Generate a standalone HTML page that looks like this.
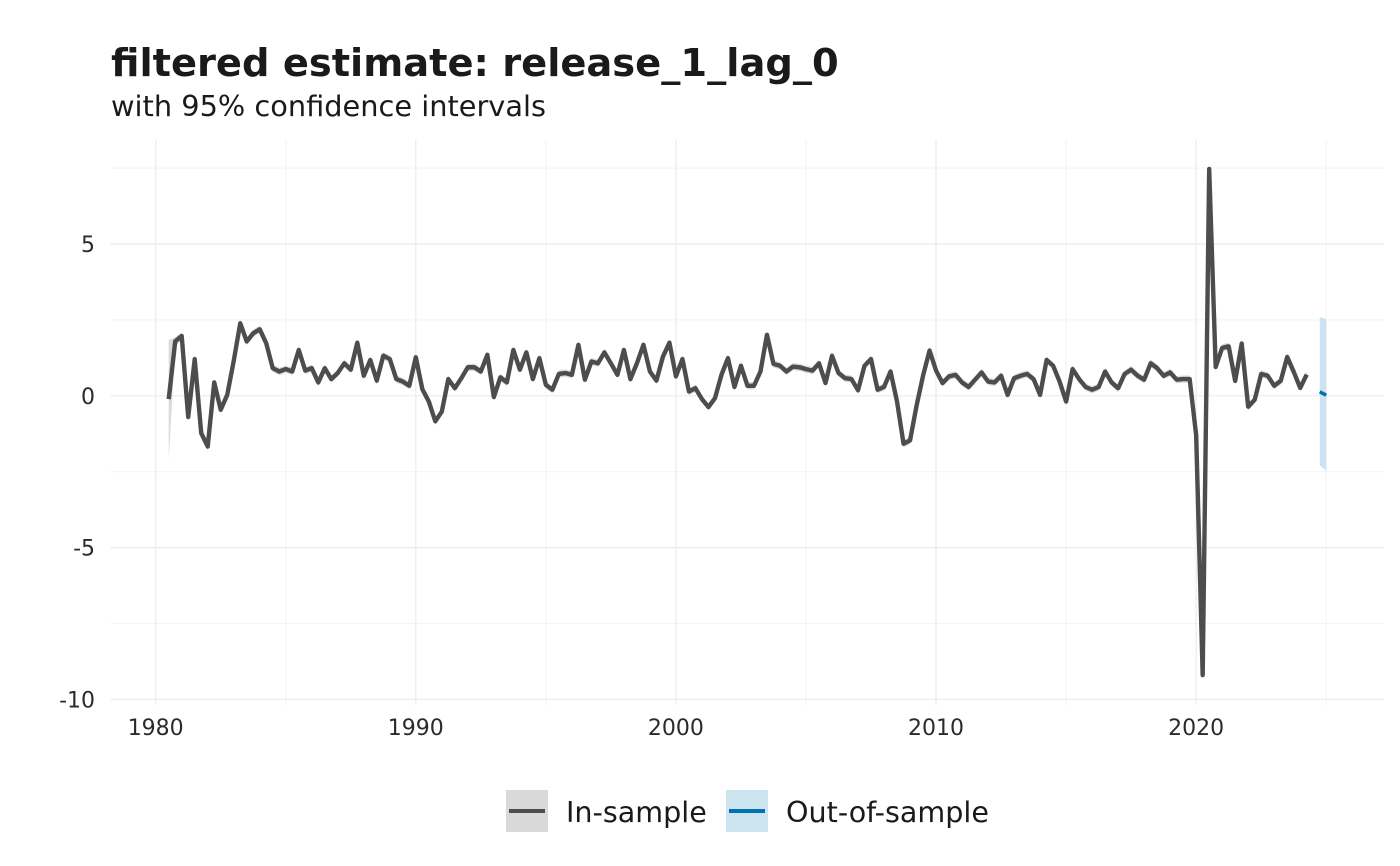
<!DOCTYPE html>
<html>
<head>
<meta charset="utf-8">
<style>
  html, body { margin: 0; padding: 0; background: #ffffff; }
  body { width: 1400px; height: 866px; overflow: hidden; }
  svg { display: block; }
  text { font-family: "DejaVu Sans", "Liberation Sans", sans-serif; }
</style>
</head>
<body>
<svg width="1400" height="866" viewBox="0 0 1400 866" xmlns="http://www.w3.org/2000/svg">
  <rect x="0" y="0" width="1400" height="866" fill="#ffffff"/>

  <!-- Title & subtitle -->
  <text x="111" y="76" font-size="38.4" font-weight="bold" fill="#1a1a1a">filtered estimate: release_1_lag_0</text>
  <text x="111" y="116" font-size="28.8" fill="#1a1a1a">with 95% confidence intervals</text>

  <!-- minor gridlines -->
  <g stroke="#f3f3f3" stroke-width="1">
    <line x1="110.7" y1="168.1" x2="1384" y2="168.1"/>
    <line x1="110.7" y1="319.9" x2="1384" y2="319.9"/>
    <line x1="110.7" y1="471.7" x2="1384" y2="471.7"/>
    <line x1="110.7" y1="623.5" x2="1384" y2="623.5"/>
    <line x1="285.8" y1="139.3" x2="285.8" y2="705"/>
    <line x1="545.9" y1="139.3" x2="545.9" y2="705"/>
    <line x1="806.0" y1="139.3" x2="806.0" y2="705"/>
    <line x1="1066.1" y1="139.3" x2="1066.1" y2="705"/>
    <line x1="1326.3" y1="139.3" x2="1326.3" y2="705"/>
  </g>
  <!-- major gridlines -->
  <g stroke="#ebebeb" stroke-width="1.2">
    <line x1="110.7" y1="244.0" x2="1384" y2="244.0"/>
    <line x1="110.7" y1="395.8" x2="1384" y2="395.8"/>
    <line x1="110.7" y1="547.6" x2="1384" y2="547.6"/>
    <line x1="110.7" y1="699.4" x2="1384" y2="699.4"/>
    <line x1="155.7" y1="139.3" x2="155.7" y2="705"/>
    <line x1="415.8" y1="139.3" x2="415.8" y2="705"/>
    <line x1="675.9" y1="139.3" x2="675.9" y2="705"/>
    <line x1="936.0" y1="139.3" x2="936.0" y2="705"/>
    <line x1="1196.1" y1="139.3" x2="1196.1" y2="705"/>
  </g>

  <!-- y tick labels -->
  <g font-size="22" fill="#2b2b2b" text-anchor="end">
    <text x="95" y="252">5</text>
    <text x="95" y="403.8">0</text>
    <text x="95" y="555.6">-5</text>
    <text x="95" y="707.4">-10</text>
  </g>
  <!-- x tick labels -->
  <g font-size="22" fill="#2b2b2b" text-anchor="middle">
    <text x="155.7" y="735">1980</text>
    <text x="415.8" y="735">1990</text>
    <text x="675.9" y="735">2000</text>
    <text x="936.0" y="735">2010</text>
    <text x="1196.1" y="735">2020</text>
  </g>

  <!-- data in (quarter index, value) coordinates -->
  <g transform="translate(168.7,395.8) scale(6.503,-30.36)">
    <!-- in-sample ribbon -->
    <polygon fill="#dadada" stroke="none" points="
0,1.84 1,1.93 2,2.09 3,-0.58 4,1.33 5,-1.11 6,-1.55 7,0.56 8,-0.34 9,0.15 10,1.27 11,2.51 12,1.91 13,2.18 14,2.31 15,1.85 16,1.03 17,0.92 18,1.00 19,0.92 20,1.63 21,0.95 22,1.03 23,0.56 24,1.03 25,0.67 26,0.87 27,1.19 28,0.98 29,1.87 30,0.78 31,1.30 32,0.62 33,1.44 34,1.33 35,0.67 36,0.59 37,0.45 38,1.39 39,0.34 40,-0.07 41,-0.72 42,-0.40 43,0.67 44,0.37 45,0.70 46,1.06 47,1.06 48,0.92 49,1.47 50,0.08 51,0.73 52,0.56 53,1.63 54,0.98 55,1.55 56,0.67 57,1.36 58,0.48 59,0.32 60,0.84 61,0.87 62,0.81 63,1.80 64,0.65 65,1.25 66,1.19 67,1.55 68,1.19 69,0.81 70,1.63 71,0.67 72,1.19 73,1.80 74,0.92 75,0.62 76,1.41 77,1.87 78,0.76 79,1.33 80,0.26 81,0.37 82,0.01 83,-0.25 84,0.04 85,0.81 86,1.36 87,0.41 88,1.11 89,0.45 90,0.45 91,0.92 92,2.13 93,1.17 94,1.11 95,0.92 96,1.08 97,1.06 98,1.00 99,0.95 100,1.19 101,0.54 102,1.44 103,0.87 104,0.70 105,0.67 106,0.30 107,1.11 108,1.33 109,0.32 110,0.41 111,0.92 112,-0.07 113,-1.46 114,-1.35 115,-0.21 116,0.78 117,1.61 118,0.95 119,0.54 120,0.76 121,0.81 122,0.56 123,0.41 124,0.65 125,0.89 126,0.59 127,0.56 128,0.78 129,0.15 130,0.70 131,0.78 132,0.84 133,0.67 134,0.15 135,1.30 136,1.11 137,0.59 138,-0.07 139,1.00 140,0.67 141,0.41 142,0.32 143,0.41 144,0.92 145,0.56 146,0.37 147,0.84 148,0.98 149,0.78 150,0.65 151,1.19 152,1.03 153,0.78 154,0.89 155,0.65 156,0.67 157,0.67 158,-1.18 159,-9.08 160,7.59 161,1.07 162,1.70 163,1.75 164,0.61 165,1.84 166,-0.24 167,-0.01 168,0.84 169,0.78 170,0.45 171,0.61 172,1.40 173,0.91 174,0.38 175,0.82
175,0.58 174,0.14 173,0.67 172,1.16 171,0.37 170,0.21 169,0.54 168,0.60 167,-0.25 166,-0.48 165,1.60 164,0.37 163,1.51 162,1.46 161,0.83 160,7.35 159,-9.32 158,-1.42 157,0.43 156,0.43 155,0.41 154,0.65 153,0.54 152,0.79 151,0.95 150,0.41 149,0.54 148,0.74 147,0.60 146,0.13 145,0.32 144,0.68 143,0.17 142,0.08 141,0.17 140,0.43 139,0.76 138,-0.31 137,0.35 136,0.87 135,1.06 134,-0.09 133,0.43 132,0.60 131,0.54 130,0.46 129,-0.09 128,0.54 127,0.32 126,0.35 125,0.65 124,0.41 123,0.17 122,0.32 121,0.57 120,0.52 119,0.30 118,0.71 117,1.37 116,0.54 115,-0.45 114,-1.59 113,-1.70 112,-0.31 111,0.68 110,0.17 109,0.08 108,1.09 107,0.87 106,0.06 105,0.43 104,0.46 103,0.63 102,1.20 101,0.30 100,0.95 99,0.71 98,0.76 97,0.82 96,0.84 95,0.68 94,0.87 93,0.93 92,1.89 91,0.68 90,0.21 89,0.21 88,0.87 87,0.17 86,1.12 85,0.57 84,-0.20 83,-0.49 82,-0.23 81,0.13 80,0.02 79,1.09 78,0.52 77,1.63 76,1.17 75,0.38 74,0.68 73,1.56 72,0.95 71,0.43 70,1.39 69,0.57 68,0.95 67,1.31 66,0.95 65,1.01 64,0.41 63,1.56 62,0.57 61,0.63 60,0.60 59,0.08 58,0.24 57,1.12 56,0.43 55,1.31 54,0.74 53,1.39 52,0.32 51,0.49 50,-0.16 49,1.23 48,0.68 47,0.82 46,0.82 45,0.46 44,0.13 43,0.43 42,-0.64 41,-0.96 40,-0.31 39,0.10 38,1.15 37,0.21 36,0.35 35,0.43 34,1.09 33,1.20 32,0.38 31,1.06 30,0.54 29,1.63 28,0.74 27,0.95 26,0.63 25,0.43 24,0.79 23,0.32 22,0.79 21,0.71 20,1.39 19,0.68 18,0.76 17,0.68 16,0.79 15,1.61 14,2.07 13,1.94 12,1.67 11,2.27 10,1.03 9,-0.09 8,-0.58 7,0.32 6,-1.79 5,-1.35 4,1.09 3,-0.82 2,1.85 1,1.60 0,-2.11"/>
    <!-- out-of-sample ribbon -->
    <polygon fill="#cce3f0" stroke="none" points="177,2.59 178,2.53 178,-2.47 177,-2.29"/>
    <!-- in-sample line -->
    <polyline fill="none" stroke="#4d4d4d" stroke-width="4.4" stroke-linejoin="round" stroke-linecap="butt" vector-effect="non-scaling-stroke" points="
0,-0.11 1,1.79 2,1.97 3,-0.70 4,1.21 5,-1.23 6,-1.67 7,0.44 8,-0.46 9,0.03 10,1.15 11,2.39 12,1.79 13,2.06 14,2.19 15,1.73 16,0.91 17,0.80 18,0.88 19,0.80 20,1.51 21,0.83 22,0.91 23,0.44 24,0.91 25,0.55 26,0.75 27,1.07 28,0.86 29,1.75 30,0.66 31,1.18 32,0.50 33,1.32 34,1.21 35,0.55 36,0.47 37,0.33 38,1.27 39,0.22 40,-0.19 41,-0.84 42,-0.52 43,0.55 44,0.25 45,0.58 46,0.94 47,0.94 48,0.80 49,1.35 50,-0.04 51,0.61 52,0.44 53,1.51 54,0.86 55,1.43 56,0.55 57,1.24 58,0.36 59,0.20 60,0.72 61,0.75 62,0.69 63,1.68 64,0.53 65,1.13 66,1.07 67,1.43 68,1.07 69,0.69 70,1.51 71,0.55 72,1.07 73,1.68 74,0.80 75,0.50 76,1.29 77,1.75 78,0.64 79,1.21 80,0.14 81,0.25 82,-0.11 83,-0.37 84,-0.08 85,0.69 86,1.24 87,0.29 88,0.99 89,0.33 90,0.33 91,0.80 92,2.01 93,1.05 94,0.99 95,0.80 96,0.96 97,0.94 98,0.88 99,0.83 100,1.07 101,0.42 102,1.32 103,0.75 104,0.58 105,0.55 106,0.18 107,0.99 108,1.21 109,0.20 110,0.29 111,0.80 112,-0.19 113,-1.58 114,-1.47 115,-0.33 116,0.66 117,1.49 118,0.83 119,0.42 120,0.64 121,0.69 122,0.44 123,0.29 124,0.53 125,0.77 126,0.47 127,0.44 128,0.66 129,0.03 130,0.58 131,0.66 132,0.72 133,0.55 134,0.03 135,1.18 136,0.99 137,0.47 138,-0.19 139,0.88 140,0.55 141,0.29 142,0.20 143,0.29 144,0.80 145,0.44 146,0.25 147,0.72 148,0.86 149,0.66 150,0.53 151,1.07 152,0.91 153,0.66 154,0.77 155,0.53 156,0.55 157,0.55 158,-1.30 159,-9.20 160,7.47 161,0.95 162,1.58 163,1.63 164,0.49 165,1.72 166,-0.36 167,-0.13 168,0.72 169,0.66 170,0.33 171,0.49 172,1.28 173,0.79 174,0.26 175,0.70"/>
    <!-- out-of-sample line -->
    <polyline fill="none" stroke="#0072B2" stroke-width="3.5" vector-effect="non-scaling-stroke" points="177,0.13 178,0.02"/>
  </g>

  <!-- Legend -->
  <rect x="506" y="790" width="42" height="42" fill="#d9d9d9"/>
  <line x1="509" y1="811" x2="545" y2="811" stroke="#4d4d4d" stroke-width="4"/>
  <text x="566" y="822" font-size="28.6" fill="#1a1a1a">In-sample</text>
  <rect x="726" y="790" width="42" height="42" fill="#cce3f0"/>
  <line x1="729" y1="811" x2="765" y2="811" stroke="#0072B2" stroke-width="4"/>
  <text x="786" y="822" font-size="28.6" fill="#1a1a1a">Out-of-sample</text>
</svg>
</body>
</html>
